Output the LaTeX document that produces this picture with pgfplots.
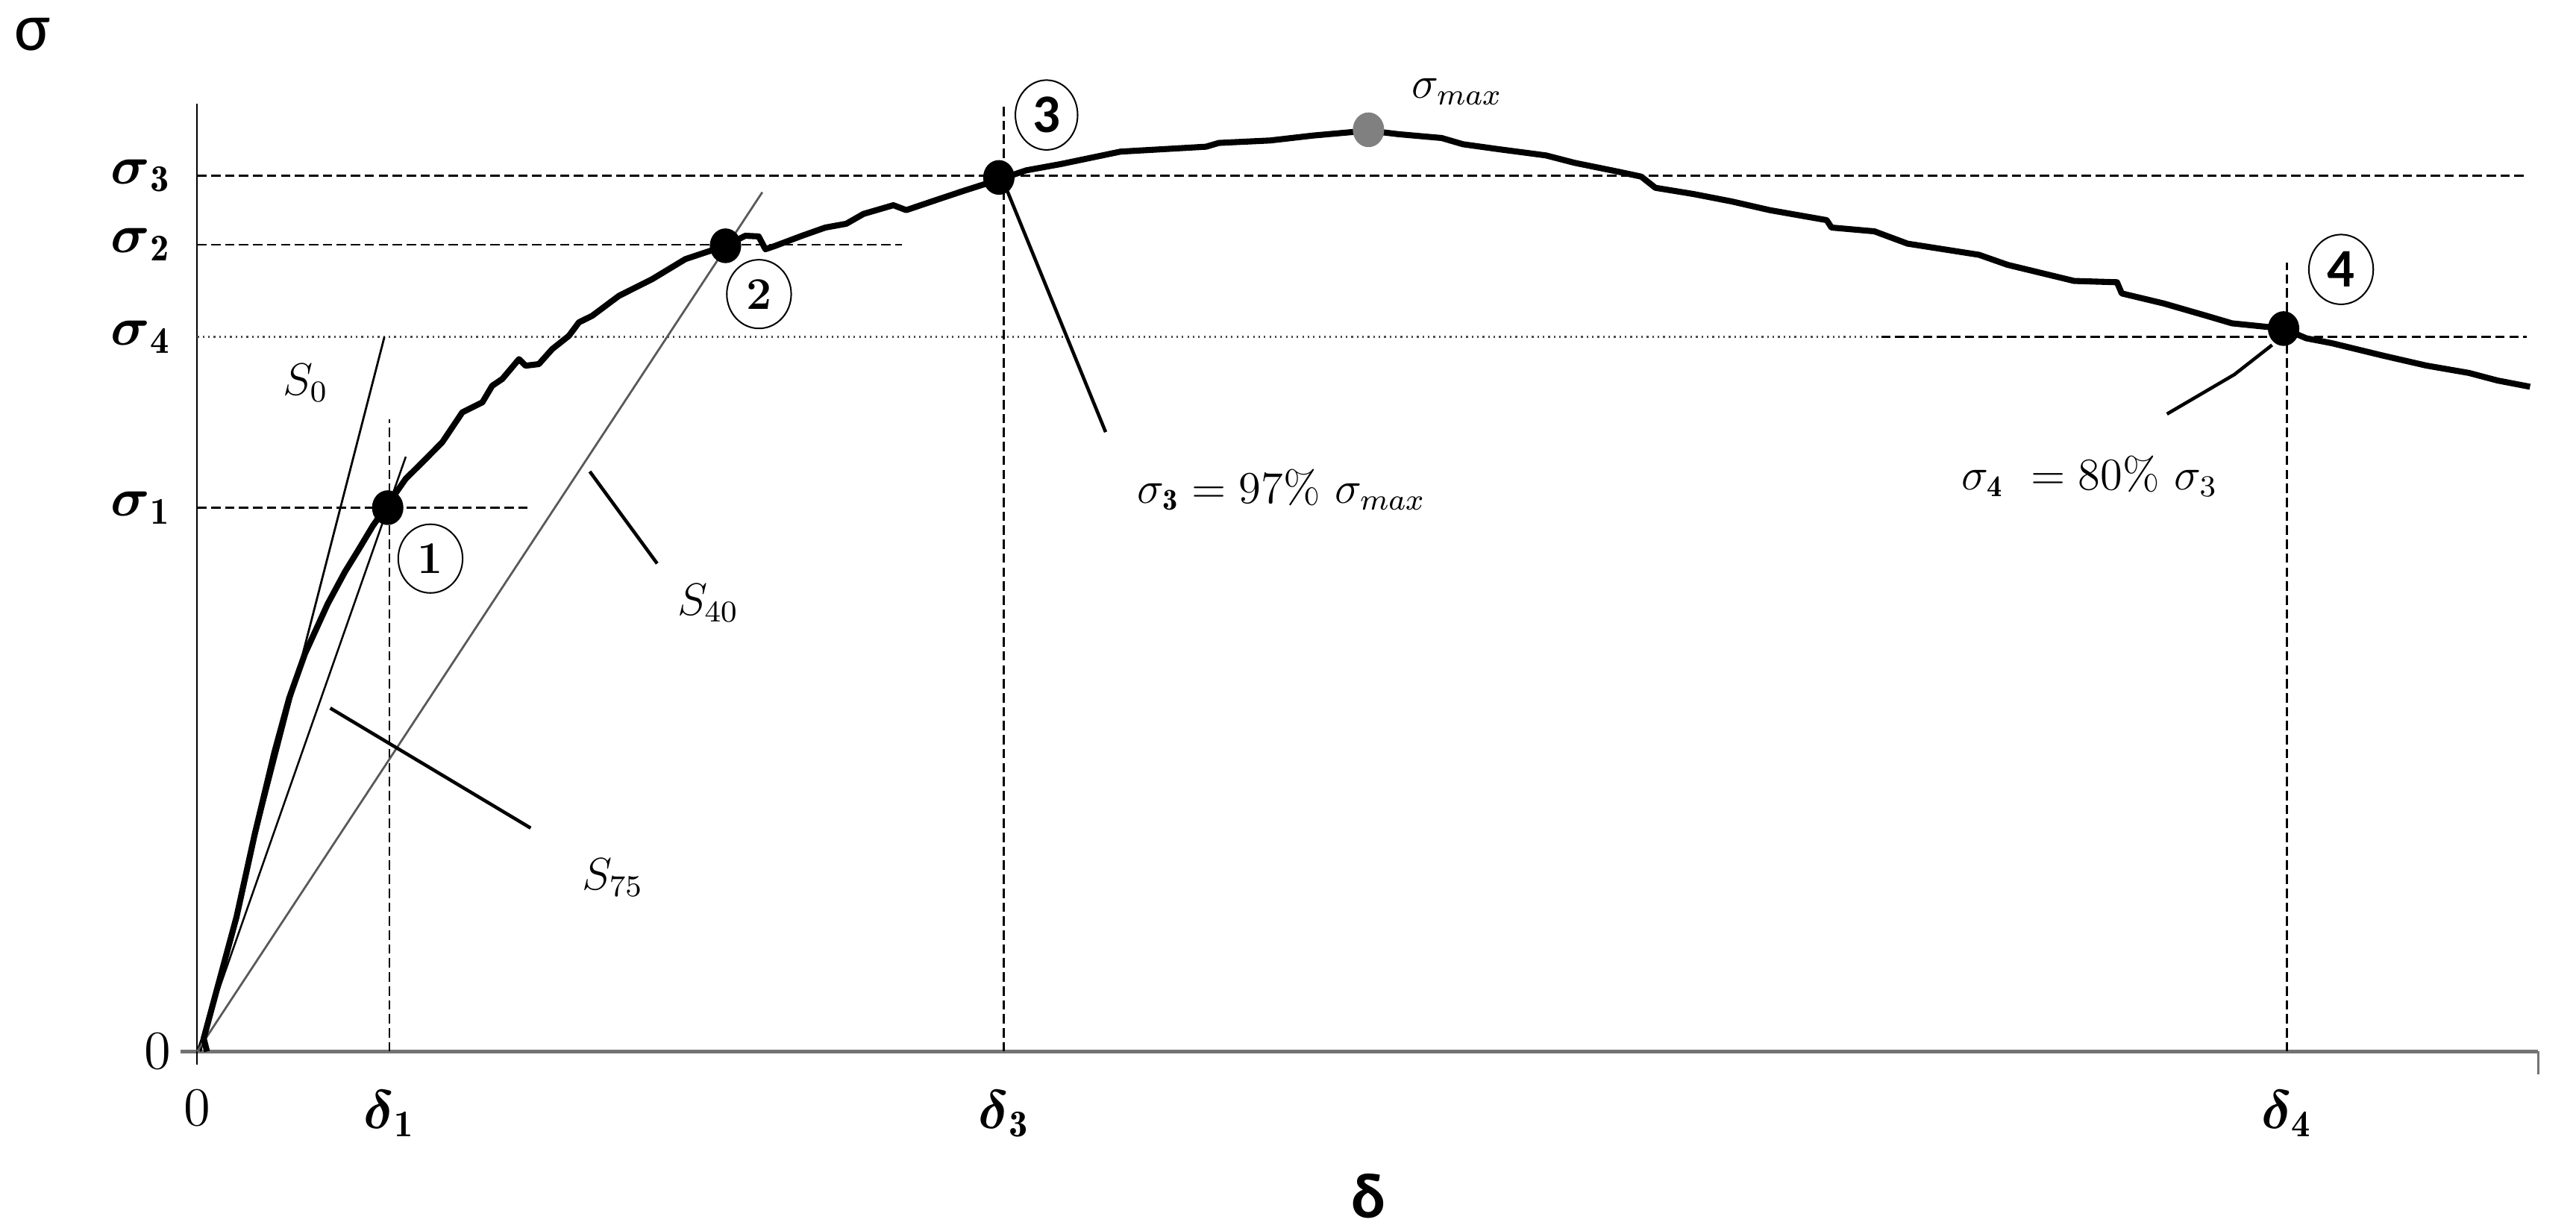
\documentclass[border=0pt]{standalone}
\usepackage{fontspec}
\usepackage{amsmath}
\usepackage{pgfplots}
\pgfplotsset{compat=1.18}
\usetikzlibrary{shapes.geometric}
\newfontfamily\carlito{Carlito}

\begin{document}
\begin{tikzpicture}
\begin{axis}[
    x=0.015306cm, y=0.015306cm,
    xmin=0, xmax=1425, ymin=0, ymax=577,
    axis x line=bottom, axis y line=left,
    x axis line style={-, draw=black!55, line width=1.1pt},
    y axis line style={-, draw=black, line width=0.45pt},
    major tick length=0pt,
    xtick={0,117,491,1272},
    xticklabels={$0$, $\boldsymbol{\delta}_{\mathbf{1}}$, $\boldsymbol{\delta}_{\mathbf{3}}$, $\boldsymbol{\delta}_{\mathbf{4}}$},
    ytick={0,331,435,491,533},
    yticklabels={$0$, $\boldsymbol{\sigma}_{\mathbf{1}}$, $\boldsymbol{\sigma}_{\mathbf{4}}$, $\boldsymbol{\sigma}_{\mathbf{2}}$, $\boldsymbol{\sigma}_{\mathbf{3}}$},
    ticklabel style={font=\Large},
    xticklabel style={yshift=-0.24cm},
    yticklabel style={xshift=-0.12cm},
    clip=false,
]
% picture extent
\path (axis cs:-120,-109) rectangle (axis cs:1448,640);

% axis overhangs
\addplot[black!55, line width=1.1pt] coordinates {(-10,0) (0,0)};
\addplot[black!55, line width=0.6pt] coordinates {(1425,0) (1425,-14)};
\addplot[black, line width=0.45pt] coordinates {(0,0) (0,-8)};

% reference levels
\addplot[black, line width=0.45pt, dash pattern=on 2.5pt off 1.2pt] coordinates {(0,331) (201,331)};
\addplot[black, line width=0.45pt, dash pattern=on 2.5pt off 1.2pt] coordinates {(0,491) (429,491)};
\addplot[black, line width=0.45pt, dash pattern=on 2.5pt off 1.2pt] coordinates {(0,533) (1418,533)};
\addplot[black!70, line width=0.45pt, densely dotted] coordinates {(0,435) (1025,435)};
\addplot[black, line width=0.45pt, dash pattern=on 2.5pt off 1.2pt] coordinates {(1025,435) (1418,435)};
\addplot[black, line width=0.45pt, dash pattern=on 2.5pt off 1.2pt] coordinates {(117,0) (117,385)};
\addplot[black, line width=0.45pt, dash pattern=on 2.5pt off 1.2pt] coordinates {(491,0) (491,577)};
\addplot[black, line width=0.45pt, dash pattern=on 2.5pt off 1.2pt] coordinates {(1272,0) (1272,480)};

% secant lines
\addplot[black, line width=0.55pt] coordinates {(2,0) (114,435)};
\addplot[black, line width=0.5pt] coordinates {(0,0) (127,362)};
\addplot[black!65, line width=0.55pt] coordinates {(0,0) (344,523)};

% leaders
\addplot[black, line width=0.9pt] coordinates {(81,209) (203,136)};
\addplot[black, line width=0.9pt] coordinates {(239,353) (280,297)};
\addplot[black, line width=0.9pt] coordinates {(491,529) (553,377)};
\addplot[black, line width=0.9pt] coordinates {(1199,388) (1240,412) (1263,430)};

% stress - displacement curve
\addplot[black, line width=1.6pt, line join=round] coordinates {
(6,0) (4,8) (14,45) (24,82) (35,132) (47,182) (56,215) (65.6,242)
(79.5,272.5) (90,292) (98,305) (107,320) (114.7,331) (126.9,348.5)
(137.1,358.6) (149.2,370.8) (161.4,389.0) (173.6,395.1) (179.6,405.2)
(185.7,409.3) (195.9,421.4) (199.9,417.4) (208.0,418.4) (216.1,427.5)
(226.3,435.6) (232.4,443.8) (240.5,447.8) (256.7,459.9) (277.0,470.1)
(297.2,482.3) (321.6,490.4) (333.7,496.5) (341.8,496.1) (345.9,488.3)
(352.0,490.4) (368.2,496.5) (382.4,501.5) (395.1,503.8) (405.6,509.8)
(423.8,515.1) (431.6,512.1) (447.3,517.4) (465.5,523.5) (489.0,531.0)
(504.6,536.3) (525.5,540.1) (562.0,547.7) (614.1,550.7) (621.9,553.0)
(653.2,554.5) (679.3,557.5) (713,560.5) (731.4,558.3) (757.5,556.0)
(770.5,552.2) (792.1,549.2) (821.0,545.4) (838.4,540.9) (864.5,535.6)
(879.0,532.5) (887.6,525.7) (910.8,521.9) (934.0,517.4) (957.2,512.1)
(991.9,506.0) (994.8,501.5) (1020.9,499.2) (1041.1,491.7) (1084.6,484.9)
(1102.0,478.8) (1142.5,469.0) (1168.6,468.2) (1171.5,461.4) (1197,455.3)
(1223.0,447.8) (1238.6,443.2) (1270,440) (1283.8,434.1) (1299.4,431.1)
(1330.7,423.5) (1356.8,417.5) (1382.8,413.0) (1400.2,408.4) (1420,404.6)
};

% characteristic points
\addplot[only marks, mark=*, mark size=4.4pt, black, mark options={xscale=0.9}]
  coordinates {(116,331) (321.6,490.4) (488,532) (1270,440)};
\addplot[only marks, mark=*, mark size=4.4pt, black!50, mark options={xscale=0.9}]
  coordinates {(713,561)};

% labels
\node[font=\large] at (axis cs:66,407) {$S_0$};
\node[font=\large] at (axis cs:311,273) {$S_{40}$};
\node[font=\large] at (axis cs:253,106) {$S_{75}$};
\node[font=\large] at (axis cs:767,584) {$\sigma_{max}$};
\node[font=\large] at (axis cs:660,342) {$\sigma_{\mathbf{3}} = 97\%\ \sigma_{max}$};
\node[font=\large] at (axis cs:1152,350) {$\sigma_{\mathbf{4}}\ = 80\%\ \sigma_{3}$};

\node[draw, ellipse, minimum width=0.6cm, minimum height=0.64cm, inner sep=0pt, line width=0.4pt, font=\large\bfseries] at (axis cs:142,300) {1};
\node[draw, ellipse, minimum width=0.6cm, minimum height=0.64cm, inner sep=0pt, line width=0.4pt, font=\large\bfseries] at (axis cs:342,461) {2};
\node[draw, ellipse, minimum width=0.58cm, minimum height=0.65cm, inner sep=0pt, line width=0.4pt, font=\carlito\Large\bfseries] at (axis cs:517,570) {3};
\node[draw, ellipse, minimum width=0.6cm, minimum height=0.65cm, inner sep=0pt, line width=0.4pt, font=\carlito\Large\bfseries] at (axis cs:1305,476) {4};

\node[font=\carlito\fontsize{18}{20}\selectfont] at (axis cs:-100,619) {σ};
\node[font=\carlito\fontsize{17}{19}\selectfont\bfseries] at (axis cs:713,-88) {δ};
\end{axis}
\end{tikzpicture}
\end{document}
